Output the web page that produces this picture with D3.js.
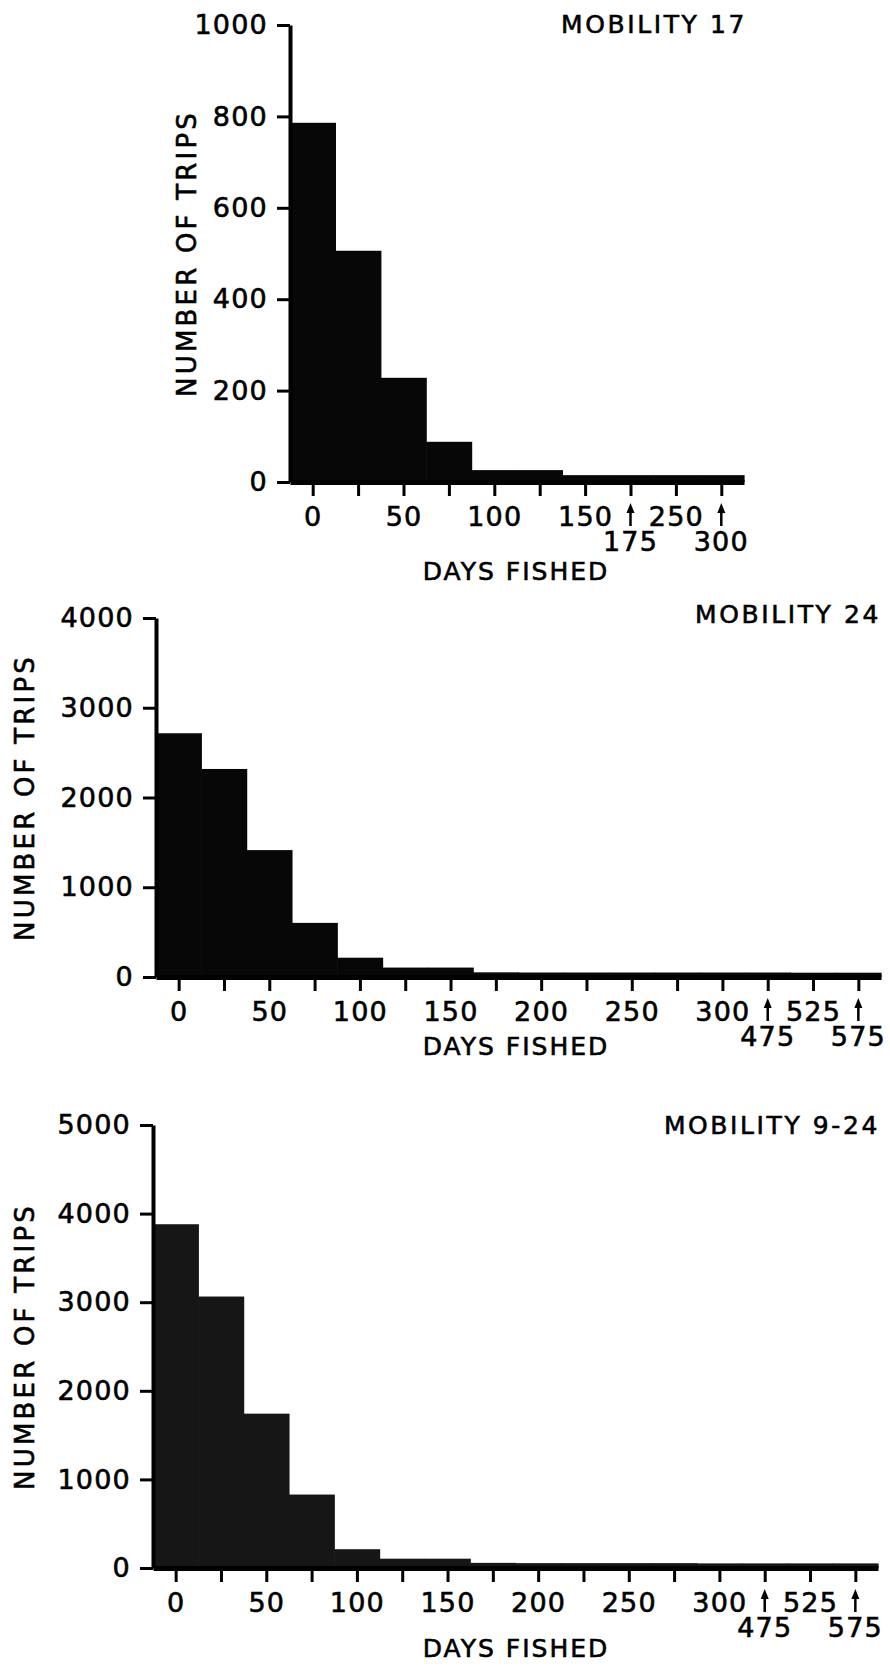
<!DOCTYPE html>
<html>
<head>
<meta charset="utf-8">
<script src="https://cdn.jsdelivr.net/npm/d3@7"></script>
<style>
body { margin: 0; background: #fff; }
svg text { font-family: "DejaVu Sans", sans-serif; fill: #000; stroke: #000; stroke-width: 0.6px; }
</style>
</head>
<body>
<div id="chart-container"></div>
<script>
// bins are 25 days wide, the axis is broken where the arrows are
var tickLabels17 = ["0", "", "50", "", "100", "", "150", "", "250", ""];
var arrowPos17 = [7, 9];
var arrowLabels17 = ["175", "300"];
var trips17 = [786, 506, 228, 88, 26, 26, 15, 15, 15, 15];
var yTicks17 = [0, 200, 400, 600, 800, 1000];

var tickLabels24 = ["0", "", "50", "", "100", "", "150", "", "200", "", "250", "", "300", "", "525", ""];
var arrowPos24 = [13, 15];
var arrowLabels24 = ["475", "575"];
var trips24 = [2716, 2318, 1414, 603, 215, 105, 105, 52, 50, 50, 50, 50, 50, 50, 48, 48];
var yTicks24 = [0, 1000, 2000, 3000, 4000];

var tickLabels924 = ["0", "", "50", "", "100", "", "150", "", "200", "", "250", "", "300", "", "525", ""];
var arrowPos924 = [13, 15];
var arrowLabels924 = ["475", "575"];
var trips924 = [3880, 3064, 1742, 829, 212, 105, 105, 58, 55, 55, 55, 55, 52, 52, 52, 52];
var yTicks924 = [0, 1000, 2000, 3000, 4000, 5000];

var panels = [
	{title: "MOBILITY 17", values: trips17, labels: tickLabels17, arrowPos: arrowPos17, arrowLabels: arrowLabels17,
	 yTicks: yTicks17, x0: 290, x1: 744, y0: 482, y1: 25, titleX: 747, titleY: 33, yTitleX: 196, xTitleY: 580, fill: "#070707"},
	{title: "MOBILITY 24", values: trips24, labels: tickLabels24, arrowPos: arrowPos24, arrowLabels: arrowLabels24,
	 yTicks: yTicks24, x0: 156, x1: 881, y0: 977, y1: 618, titleX: 881, titleY: 623, yTitleX: 34, xTitleY: 1055, fill: "#070707"},
	{title: "MOBILITY 9-24", values: trips924, labels: tickLabels924, arrowPos: arrowPos924, arrowLabels: arrowLabels924,
	 yTicks: yTicks924, x0: 153, x1: 878, y0: 1568, y1: 1125, titleX: 880, titleY: 1134, yTitleX: 34, xTitleY: 1657, fill: "#161616"}
];

var svg = d3.select("#chart-container").append("svg")
	.attr("width", 890)
	.attr("height", 1666);

panels.forEach(drawPanel);

function drawPanel(p) {
	var n = p.values.length;
	var x = d3.scaleLinear().domain([-0.5, n - 0.5]).range([p.x0, p.x1]);
	var y = d3.scaleLinear().domain([0, d3.max(p.yTicks)]).range([p.y0, p.y1]);
	var g = svg.append("g");

	// bars, one per 25-day bin
	g.selectAll("rect.bar")
		.data(p.values)
		.enter()
		.append("rect")
		.attr("class", "bar")
		.attr("x", function(d, i) { return x(i - 0.5); })
		.attr("width", x(1) - x(0) + 0.6)
		.attr("y", function(d) { return y(d); })
		.attr("height", function(d) { return y(0) - y(d); })
		.attr("fill", p.fill);

	var yAxis = d3.axisLeft(y).tickValues(p.yTicks).tickFormat(d3.format("d"))
		.tickSize(13).tickSizeOuter(0).tickPadding(9);
	var ya = g.append("g").attr("transform", "translate(" + p.x0 + ",0)").call(yAxis);

	var xAxis = d3.axisBottom(x)
		.tickValues(d3.range(n))
		.tickFormat(function(i) { return p.labels[i]; })
		.tickSize(14).tickSizeOuter(0).tickPadding(11);
	var xa = g.append("g").attr("transform", "translate(0," + p.y0 + ")").call(xAxis);

	[ya, xa].forEach(function(a) {
		a.select(".domain").attr("stroke", "#000").attr("stroke-width", 4);
		a.selectAll(".tick line").attr("stroke", "#000").attr("stroke-width", 3);
		a.selectAll(".tick text").attr("font-size", 27).attr("letter-spacing", 1.2).attr("fill", "#000");
	});
	xa.select(".domain").attr("stroke-width", 5);

	// break arrows and the second row of labels under them
	p.arrowPos.forEach(function(pos, k) {
		var ax = x(pos);
		g.append("line")
			.attr("x1", ax).attr("x2", ax)
			.attr("y1", p.y0 + 28).attr("y2", p.y0 + 44)
			.attr("stroke", "#000").attr("stroke-width", 2.5);
		g.append("path")
			.attr("d", "M" + (ax - 4) + "," + (p.y0 + 31) + "L" + ax + "," + (p.y0 + 21) + "L" + (ax + 4) + "," + (p.y0 + 31) + "Z")
			.attr("fill", "#000");
		g.append("text")
			.attr("x", ax).attr("y", p.y0 + 69)
			.attr("text-anchor", "middle")
			.attr("font-size", 27).attr("letter-spacing", 1.2)
			.text(p.arrowLabels[k]);
	});

	g.append("text")
		.attr("x", p.titleX).attr("y", p.titleY)
		.attr("text-anchor", "end")
		.attr("font-size", 25).attr("letter-spacing", 2.6)
		.text(p.title);

	g.append("text")
		.attr("x", 516).attr("y", p.xTitleY)
		.attr("text-anchor", "middle")
		.attr("font-size", 25).attr("letter-spacing", 2)
		.text("DAYS FISHED");

	g.append("text")
		.attr("transform", "translate(" + p.yTitleX + "," + ((p.y0 + p.y1) / 2) + ") rotate(-90)")
		.attr("text-anchor", "middle")
		.attr("font-size", 26).attr("letter-spacing", 3.2)
		.text("NUMBER OF TRIPS");
}
</script>
</body>
</html>
